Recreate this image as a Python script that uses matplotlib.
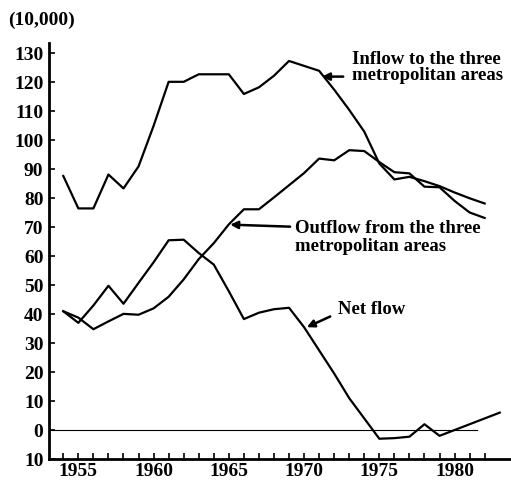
import matplotlib
matplotlib.use("Agg")
import matplotlib.pyplot as plt
import numpy as np

# anos e valores (unidade: 10.000 pessoas)
anos = list(range(1954, 1983))
anos_net = list(range(1954, 1984))

inflow = [87.7, 76.5, 76.5, 88.2, 83.4, 91.0, 105.0, 120.2, 120.2, 122.8,
          122.8, 122.8, 116.0, 118.3, 122.3, 127.4, 125.7, 124.0, 117.5, 110.5,
          103.0, 92.0, 86.5, 87.4, 85.9, 84.2, 82.0, 80.0, 78.2]

outflow = [41.0, 38.8, 34.8, 37.5, 40.1, 39.8, 42.0, 46.0, 52.0, 59.0,
           64.5, 71.0, 76.2, 76.2, 80.3, 84.5, 88.7, 93.7, 93.1, 96.6,
           96.3, 92.5, 89.0, 88.6, 84.0, 83.8, 79.1, 75.1, 73.2]

net = [41.0, 37.0, 43.0, 49.8, 43.6, 50.8, 57.9, 65.5, 65.7, 61.1,
       57.1, 47.9, 38.3, 40.5, 41.7, 42.2, 35.5, 27.5, 19.5, 11.0,
       4.0, -3.0, -2.8, -2.3, 2.0, -2.0, 0.0, 2.0, 4.0, 6.0]

yticks = [-10, 0, 10, 20, 30, 40, 50, 60, 70, 80, 90, 100, 110, 120, 130]
ytick_labels = ["10", "0", "10", "20", "30", "40", "50", "60", "70", "80",
                "90", "100", "110", "120", "130"]
xtick_major = [1955, 1960, 1965, 1970, 1975, 1980]
xtick_minor = list(range(1954, 1983))

fonte = "Liberation Serif"
cor = "black"

fig = plt.figure(figsize=(5.11, 4.83), dpi=100)
ax = fig.add_axes([49 / 511, 24 / 483, 462 / 511, 416 / 483])

ax.plot(anos, inflow, color=cor, lw=1.6)
ax.plot(anos, outflow, color=cor, lw=1.6)
ax.plot(anos_net, net, color=cor, lw=1.6)
ax.axhline(0, xmin=0, xmax=(1981.5 - 1953.05) / (1983.75 - 1953.05), color=cor, lw=0.8)

ax.set_xlim(1953.05, 1983.75)
ax.set_ylim(-10, 133.6)

# eixos
for lado in ["top", "right"]:
    ax.spines[lado].set_visible(False)
ax.spines["left"].set_linewidth(2)
ax.spines["bottom"].set_linewidth(2)

ax.set_yticks(yticks)
ax.set_yticklabels(ytick_labels, fontfamily=fonte, fontsize=14, fontweight="bold")
ax.set_xticks(xtick_major)
ax.set_xticklabels([str(a) for a in xtick_major], fontfamily=fonte, fontsize=14, fontweight="bold")
ax.set_xticks(xtick_minor, minor=True)
ax.tick_params(axis="y", direction="in", length=4, width=1.2, pad=4)
ax.tick_params(axis="x", which="both", direction="in", length=4, width=1.2, pad=3)

fig.text(8 / 511, 1 - 20 / 483, "(10,000)", fontfamily=fonte, fontsize=14, fontweight="bold", va="center")

# textos e setas
seta = dict(arrowstyle="-|>", color=cor, lw=1.8, mutation_scale=11, shrinkA=0, shrinkB=0)
ax.text(1973.2, 125.1, "Inflow to the three\nmetropolitan areas", fontfamily=fonte,
        fontsize=13.5, fontweight="bold", va="center", ha="left", linespacing=0.95)
ax.annotate("", xy=(1971.19, 122.0), xytext=(1972.6, 122.0), arrowprops=seta)

ax.text(1969.4, 66.4, "Outflow from the three\nmetropolitan areas", fontfamily=fonte,
        fontsize=13.5, fontweight="bold", va="center", ha="left", linespacing=1.05)
ax.annotate("", xy=(1965.09, 70.9), xytext=(1969.07, 70.2), arrowprops=seta)

ax.text(1972.26, 41.5, "Net flow", fontfamily=fonte, fontsize=13.5, fontweight="bold",
        va="center", ha="left")
ax.annotate("", xy=(1970.18, 35.5), xytext=(1971.74, 39.2), arrowprops=seta)

plt.savefig("out.png", dpi=100)
